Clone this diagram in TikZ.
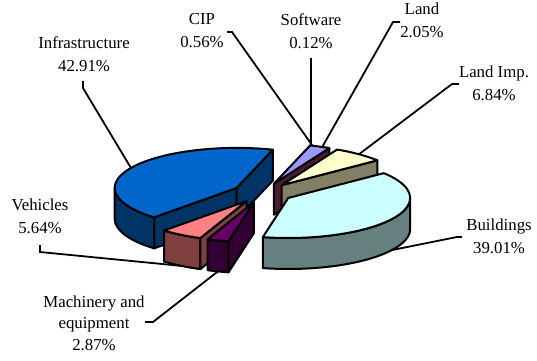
\documentclass[tikz,border=0pt]{standalone}
\usepackage{fontspec}
\setmainfont{Liberation Serif}
\usetikzlibrary{calc}
\definecolor{infTop}{HTML}{0066CC}\definecolor{infSide}{HTML}{003366}
\definecolor{bldTop}{HTML}{CCFFFF}\definecolor{bldSide}{HTML}{668080}
\definecolor{impTop}{HTML}{FFFFCC}\definecolor{impSide}{HTML}{808066}
\definecolor{vehTop}{HTML}{FF8080}\definecolor{vehSide}{HTML}{804040}
\definecolor{macTop}{HTML}{660066}\definecolor{macSide}{HTML}{330033}
\definecolor{cluTop}{HTML}{9999FF}\definecolor{cluSide}{HTML}{4D1933}
% pie geometry: radii of the top ellipse and slab thickness
% (trailing spaces keep "x and y" polar coordinates readable)
\def\rx{122 }\def\ry{40 }\def\h{31}
% top of a slice: centre, start angle, end angle, colour
\newcommand\pietop[4]{\filldraw[face,fill=#4] (#1) -- ($(#1)+(#2:\rx and \ry)$)
  arc[start angle=#2,end angle=#3,x radius=\rx,y radius=\ry] -- cycle;}
% outer curved side of a slice
\newcommand\pierim[4]{\filldraw[face,fill=#4] ($(#1)+(#2:\rx and \ry)$)
  arc[start angle=#2,end angle=#3,x radius=\rx,y radius=\ry] -- ++(0,-\h)
  arc[start angle=#3,end angle=#2,x radius=\rx,y radius=\ry] -- cycle;}
% radial cut face of a slice
\newcommand\piecut[3]{\filldraw[face,fill=#3] (#1) -- ($(#1)+(#2:\rx and \ry)$)
  -- ($(#1)+(#2:\rx and \ry)+(0,-\h)$) -- ($(#1)+(0,-\h)$) -- cycle;}
\begin{document}
\begin{tikzpicture}[x=1pt,y=1pt,
  face/.style={draw=black,line width=2pt,line join=round},
  leader/.style={draw=black,line width=1.8pt,line join=miter},
  lbl/.style={font=\fontsize{16.8}{22.5}\selectfont,align=center,inner sep=0pt,anchor=base}]
\useasboundingbox (0,0) rectangle (537,360);

% labels (anchored at the baseline of their last line)
\node[lbl] (lInf) at (84,289) {Infrastructure\\42.91\%};
\node[lbl] (lCip) at (202,313) {CIP\\0.56\%};
\node[lbl] (lSw)  at (311,312) {Software\\0.12\%};
\node[lbl] (lLand) at (422,323) {Land\\2.05\%};
\node[lbl] (lImp) at (494,260) {Land Imp.\\6.84\%};
\node[lbl] (lBld) at (499,107) {Buildings\\39.01\%};
\node[lbl] (lVeh) at (40,127) {Vehicles\\5.64\%};
\node[lbl,font=\fontsize{16.8}{21.5}\selectfont] (lMac) at (94,10) {Machinery and\\equipment\\2.87\%};

% exploded slice centres
\coordinate (C0) at (262.7,167.2);
\coordinate (cClu) at ($(C0)+(67.9:30 and 9.84)$);
\coordinate (cImp) at ($(C0)+(50.7:30 and 9.84)$);
\coordinate (cInf) at ($(C0)+(150.1:30 and 9.84)$);
\coordinate (cBld) at ($(C0)+(-31.8:30 and 9.84)$);
\coordinate (cVeh) at ($(C0)+(237.55:30 and 9.84)$);
\coordinate (cMac) at ($(C0)+(252.85:30 and 9.84)$);

% leader end points on the slices
\coordinate (eInf) at ($(cInf)+(150.1:\rx and \ry)$);
\coordinate (eCip) at ($(cClu)+(71.6:\rx and \ry)$);
\coordinate (eSw)  at ($(cClu)+(72.4:\rx and \ry)$);
\coordinate (eLand) at ($(cClu)+(66.7:\rx and \ry)$);
\coordinate (eImp) at ($(cImp)+(50.7:\rx and \ry)$);
\coordinate (eBld) at ($(cBld)+(-31.8:\rx and \ry)+(0,-\h)$);
\coordinate (eVeh) at ($(cVeh)+(237.55:\rx and \ry)+(0,-\h)$);
\coordinate (eMac) at ($(cMac)+(252.85:\rx and \ry)+(0,-\h)$);

% leader lines
\coordinate (sInf) at (83,279); \coordinate (kInf) at (83,272);
\coordinate (sCip) at (227,328); \coordinate (kCip) at (232,328);
\coordinate (sSw) at (311,302);
\coordinate (sLand) at (400,338); \coordinate (kLand) at (393,338);
\coordinate (sImp) at (459,276); \coordinate (kImp) at (452,276);
\coordinate (sBld) at (462,123); \coordinate (kBld) at (457,123);
\coordinate (sVeh) at (40,115); \coordinate (kVeh) at (40,108);
\coordinate (sMac) at (145,38); \coordinate (kMac) at (153,38);
\draw[leader] (sInf) -- (kInf) -- (eInf);
\draw[leader] (sCip) -- (kCip) -- (eCip);
\draw[leader] (sSw) -- (eSw);
\draw[leader] (sLand) -- (kLand) -- (eLand);
\draw[leader] (sImp) -- (kImp) -- (eImp);
\draw[leader] (sBld) -- (kBld) -- (eBld);
\draw[leader] (sVeh) -- (kVeh) -- (eVeh);
\draw[leader] (sMac) -- (kMac) -- (eMac);

% small slices at the back (CIP, Software, Land)
\piecut{cClu}{63}{cluSide}
\pietop{cClu}{63}{72.8}{cluTop}
% Land Imp.
\piecut{cImp}{38.4}{impSide}
\pietop{cImp}{38.4}{63}{impTop}
% Infrastructure
\piecut{cInf}{227.4}{infSide}
\pierim{cInf}{180}{227.4}{infSide}
\piecut{cInf}{72.8}{infSide}
\pietop{cInf}{72.8}{227.4}{infTop}
% Buildings
\pierim{cBld}{-102}{0}{bldSide}
\pietop{cBld}{-102}{38.4}{bldTop}
% Vehicles
\pierim{cVeh}{227.4}{247.7}{vehSide}
\piecut{cVeh}{247.7}{vehSide}
\pietop{cVeh}{227.4}{247.7}{vehTop}
% Machinery and equipment
\pierim{cMac}{247.7}{258}{macSide}
\piecut{cMac}{258}{macSide}
\pietop{cMac}{247.7}{258}{macTop}
\end{tikzpicture}
\end{document}
